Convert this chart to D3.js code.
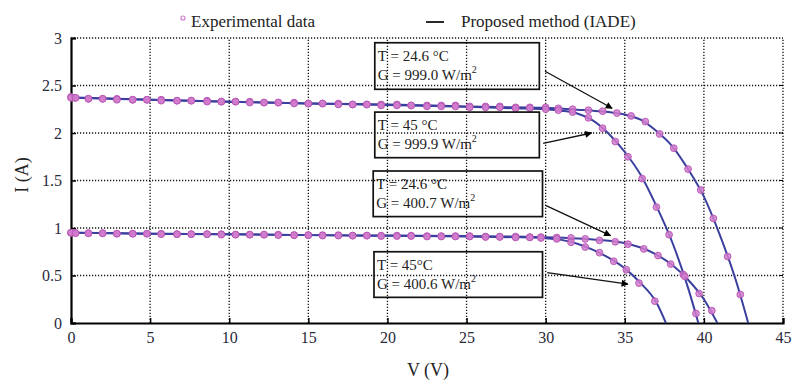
<!DOCTYPE html>
<html>
<head>
<meta charset="utf-8">
<script src="https://cdn.jsdelivr.net/npm/d3@7"></script>
<style>
	body { margin: 0; background: #fff; }
	svg { display: block; font-family: 'Liberation Serif', 'Times New Roman', serif; }
</style>
</head>
<body>
<div id="canvas"></div>
<script>
/**
 * I-V curves: experimental data vs proposed method (IADE)
 */

// Ticks
var xTicks = [0, 5, 10, 15, 20, 25, 30, 35, 40, 45],
	yTicks = [0, 0.5, 1, 1.5, 2, 2.5, 3],
	yTickLabels = ['0', '0.5', '1', '1.5', '2', '2.5', '3'];

// Experimental data [V, I]
var expA = [[0,2.38],[0.25,2.37],[1.1,2.36],[2.0,2.36],[2.9,2.36],[3.9,2.35],[4.8,2.35],[5.7,2.35],[6.7,2.34],[7.6,2.34],[8.6,2.34],[9.5,2.33],[10.4,2.33],[11.3,2.33],[12.2,2.32],[13.1,2.32],[14.1,2.32],[15.0,2.31],[15.9,2.31],[16.9,2.31],[17.8,2.30],[18.7,2.30],[19.6,2.30],[20.6,2.30],[21.5,2.29],[22.5,2.29],[23.4,2.29],[24.3,2.29],[25.2,2.28],[26.2,2.28],[27.1,2.28],[28.1,2.27],[29.0,2.27],[30.0,2.27],[30.8,2.26],[31.7,2.25],[32.7,2.24],[33.6,2.23],[34.5,2.21],[35.4,2.18],[36.3,2.12],[37.2,1.99],[38.1,1.84],[39.0,1.62],[39.8,1.40],[40.6,1.10],[41.5,0.70],[42.3,0.30]];
var expB = [[0,2.37],[0.3,2.37],[1.1,2.36],[2.0,2.36],[2.9,2.35],[3.9,2.35],[4.8,2.35],[5.7,2.34],[6.7,2.34],[7.6,2.34],[8.6,2.33],[9.5,2.33],[10.4,2.33],[11.3,2.32],[12.2,2.32],[13.1,2.32],[14.1,2.31],[15.0,2.31],[15.9,2.31],[16.9,2.30],[17.8,2.30],[18.7,2.30],[19.6,2.29],[20.6,2.29],[21.5,2.29],[22.5,2.28],[23.4,2.28],[24.3,2.28],[25.2,2.27],[26.2,2.27],[27.1,2.27],[28.1,2.26],[29.0,2.26],[30.0,2.25],[30.8,2.24],[31.7,2.22],[32.7,2.16],[33.6,2.05],[34.4,1.91],[35.2,1.75],[36.1,1.52],[37.0,1.22],[37.8,0.93],[38.7,0.51],[39.5,0.10]];
var expC = [[0,0.95],[0.25,0.95],[1.1,0.945],[2.0,0.945],[2.9,0.94],[3.9,0.94],[4.8,0.94],[5.7,0.94],[6.7,0.935],[7.6,0.935],[8.6,0.935],[9.5,0.935],[10.4,0.93],[11.3,0.93],[12.2,0.93],[13.1,0.93],[14.1,0.925],[15.0,0.925],[15.9,0.925],[16.9,0.925],[17.8,0.92],[18.7,0.92],[19.6,0.92],[20.6,0.92],[21.5,0.92],[22.5,0.915],[23.4,0.915],[24.3,0.915],[25.2,0.915],[26.2,0.91],[27.1,0.91],[28.1,0.91],[29.0,0.905],[29.7,0.905],[30.7,0.90],[31.6,0.895],[32.5,0.885],[33.4,0.87],[34.4,0.855],[35.2,0.83],[36.2,0.78],[37.1,0.71],[37.9,0.62],[38.8,0.49],[39.7,0.31],[40.5,0.13]];
var expD = [[0,0.95],[0.3,0.945],[1.1,0.945],[2.0,0.945],[2.9,0.94],[3.9,0.94],[4.8,0.94],[5.7,0.935],[6.7,0.935],[7.6,0.935],[8.6,0.935],[9.5,0.93],[10.4,0.93],[11.3,0.93],[12.2,0.93],[13.1,0.925],[14.1,0.925],[15.0,0.925],[15.9,0.92],[16.9,0.92],[17.8,0.92],[18.7,0.92],[19.6,0.915],[20.6,0.915],[21.5,0.915],[22.5,0.91],[23.4,0.91],[24.3,0.91],[25.2,0.91],[26.2,0.905],[27.1,0.905],[28.1,0.90],[29.0,0.90],[29.7,0.895],[30.7,0.885],[31.6,0.85],[32.5,0.80],[33.4,0.74],[34.3,0.65],[35.1,0.56],[35.9,0.42],[36.9,0.23]];

// Proposed method (IADE) [V, I]
var modelA = [[0,2.375],[5,2.35],[10,2.33],[15,2.31],[20,2.30],[25,2.28],[28,2.27],[30,2.265],[32,2.245],[33,2.235],[34,2.22],[35,2.195],[36,2.14],[37,2.02],[38,1.86],[39,1.62],[40,1.33],[41,0.93],[42,0.46],[42.8,0]];
var modelB = [[0,2.37],[5,2.35],[10,2.33],[15,2.31],[20,2.295],[25,2.275],[28,2.26],[30,2.25],[31,2.235],[32,2.205],[33,2.13],[34,1.99],[35,1.80],[36,1.56],[37,1.23],[38,0.85],[39,0.37],[39.65,0]];
var modelC = [[0,0.95],[5,0.94],[10,0.933],[15,0.925],[20,0.92],[25,0.915],[28,0.91],[30,0.903],[32,0.89],[33,0.88],[34,0.865],[35,0.84],[36,0.795],[37,0.72],[38,0.61],[39,0.455],[40,0.25],[40.85,0]];
var modelD = [[0,0.95],[5,0.94],[10,0.933],[15,0.925],[20,0.918],[25,0.91],[28,0.903],[30,0.893],[31,0.875],[32,0.835],[33,0.77],[34,0.685],[35,0.575],[36,0.42],[37,0.215],[37.6,0]];

// Annotation labels
var labelT = ['T = 24.6 \u00B0C', 'T = 45 \u00B0C', 'T = 24.6 \u00B0C', 'T = 45\u00B0C'],
	labelG = ['G = 999.0 W/m', 'G = 999.9 W/m', 'G = 400.7 W/m', 'G = 400.6 W/m'];

// UI
var width = 793,
	height = 381,
	margin = { left: 71, right: 10, top: 38, bottom: 58 },
	lineColor = '#3b3f9e',
	dotColor = '#d27ccc',
	dotStroke = '#b552b4',
	gridColor = '#111';

var svg = d3.select('#canvas').append('svg')
	.attr('width', width)
	.attr('height', height);

var x = d3.scaleLinear().domain([0, 45]).range([margin.left, 783]),
	y = d3.scaleLinear().domain([0, 3]).range([323, margin.top]);

// Annotation boxes and arrows, placed in data units
var boxes = [
	{ v0: 19.2, v1: 29.6, i0: 2.95, i1: 2.46, ax0: 29.96, ay0: 2.65, ax1: 34.2, ay1: 2.26 },
	{ v0: 19.2, v1: 29.6, i0: 2.22, i1: 1.74, ax0: 29.84, ay0: 1.89, ax1: 32.9, ay1: 2.0 },
	{ v0: 19.1, v1: 29.8, i0: 1.60, i1: 1.12, ax0: 29.96, ay0: 1.24, ax1: 34.1, ay1: 0.92 },
	{ v0: 19.15, v1: 29.8, i0: 0.75, i1: 0.27, ax0: 30.1, ay0: 0.53, ax1: 35.2, ay1: 0.41 }
];

// Arrow marker
svg.append('defs').append('marker')
	.attr('id', 'arrow')
	.attr('viewBox', '0 0 10 10')
	.attr('refX', 9).attr('refY', 5)
	.attr('markerWidth', 9).attr('markerHeight', 7)
	.attr('markerUnits', 'userSpaceOnUse')
	.attr('orient', 'auto')
	.append('path')
	.attr('d', 'M0,0 L10,5 L0,10 Z')
	.attr('fill', '#000');

// Grid
var gGrid = svg.append('g');
gGrid.selectAll('line.vx')
	.data(xTicks.slice(1))
	.enter().append('line')
	.attr('x1', function(d) { return x(d); })
	.attr('x2', function(d) { return x(d); })
	.attr('y1', y(0)).attr('y2', y(3))
	.attr('stroke', gridColor)
	.attr('stroke-width', 1.3)
	.attr('stroke-dasharray', '1.2,1.8');
gGrid.selectAll('line.hy')
	.data(yTicks.slice(1))
	.enter().append('line')
	.attr('y1', function(d) { return y(d); })
	.attr('y2', function(d) { return y(d); })
	.attr('x1', x(0)).attr('x2', x(45))
	.attr('stroke', gridColor)
	.attr('stroke-width', 1.3)
	.attr('stroke-dasharray', '1.2,1.8');

// Axes
var xAxis = svg.append('g')
	.attr('transform', 'translate(0,' + y(0) + ')')
	.call(d3.axisBottom(x).tickValues(xTicks).tickSize(-5).tickPadding(9));
var yAxis = svg.append('g')
	.attr('transform', 'translate(' + x(0) + ',0)')
	.call(d3.axisLeft(y).tickValues(yTicks).tickSize(-5).tickPadding(9)
		.tickFormat(function(d, i) { return yTickLabels[i]; }));
[xAxis, yAxis].forEach(function(g) {
	g.select('.domain').attr('stroke', '#000').attr('stroke-width', 2.2);
	g.selectAll('.tick line').attr('stroke', '#000').attr('stroke-width', 1.5);
	g.selectAll('.tick text')
		.attr('fill', '#2a2a3a')
		.style('font-family', "'Liberation Serif', serif")
		.style('font-size', '16px');
});
// right-edge ticks
svg.append('g').selectAll('line')
	.data(yTicks.slice(1, -1))
	.enter().append('line')
	.attr('x1', x(45)).attr('x2', x(45) - 4)
	.attr('y1', function(d) { return y(d); })
	.attr('y2', function(d) { return y(d); })
	.attr('stroke', '#000');

// Model lines
var line = d3.line()
	.x(function(d) { return x(d[0]); })
	.y(function(d) { return y(d[1]); })
	.curve(d3.curveMonotoneX);
var gLines = svg.append('g');
[modelA, modelB, modelC, modelD].forEach(function(m) {
	gLines.append('path')
		.datum(m)
		.attr('d', line)
		.attr('fill', 'none')
		.attr('stroke', lineColor)
		.attr('stroke-width', 2);
});

// Experimental points
var gDots = svg.append('g');
[expA, expB, expC, expD].forEach(function(e) {
	gDots.append('g').selectAll('circle')
		.data(e)
		.enter().append('circle')
		.attr('cx', function(d) { return x(d[0]); })
		.attr('cy', function(d) { return y(d[1]); })
		.attr('r', 3.4)
		.attr('fill', dotColor)
		.attr('fill-opacity', 0.85)
		.attr('stroke', dotStroke)
		.attr('stroke-width', 0.9);
});

// Annotation boxes
var gNotes = svg.append('g');
boxes.forEach(function(b, i) {
	var bx = x(b.v0), by = y(b.i0);
	gNotes.append('rect')
		.attr('x', bx).attr('y', by)
		.attr('width', x(b.v1) - x(b.v0))
		.attr('height', y(b.i1) - y(b.i0))
		.attr('fill', 'none')
		.attr('stroke', '#111')
		.attr('stroke-width', 1.7);
	gNotes.append('text')
		.attr('x', bx + 3).attr('y', by + 18)
		.attr('font-size', 15)
		.attr('fill', '#222')
		.text(labelT[i]);
	var t = gNotes.append('text')
		.attr('x', bx + 3).attr('y', by + 37)
		.attr('font-size', 15)
		.attr('fill', '#222')
		.text(labelG[i]);
	t.append('tspan')
		.attr('dy', -7)
		.attr('font-size', 10)
		.text('2');
	gNotes.append('line')
		.attr('x1', x(b.ax0)).attr('y1', y(b.ay0))
		.attr('x2', x(b.ax1)).attr('y2', y(b.ay1))
		.attr('stroke', '#111')
		.attr('stroke-width', 1.3)
		.attr('marker-end', 'url(#arrow)');
});

// Legend
var gLegend = svg.append('g');
gLegend.append('circle')
	.attr('cx', 183).attr('cy', 18).attr('r', 2)
	.attr('fill', 'none')
	.attr('stroke', dotColor)
	.attr('stroke-width', 1.2);
gLegend.append('text')
	.attr('x', 191).attr('y', 27)
	.attr('font-size', 17)
	.attr('fill', '#222')
	.text('Experimental data');
gLegend.append('line')
	.attr('x1', 426).attr('x2', 444)
	.attr('y1', 22).attr('y2', 22)
	.attr('stroke', '#111')
	.attr('stroke-width', 1.8);
gLegend.append('text')
	.attr('x', 461).attr('y', 27)
	.attr('font-size', 17)
	.attr('fill', '#222')
	.text('Proposed method (IADE)');

// Axis titles
svg.append('text')
	.attr('x', 428).attr('y', 376)
	.attr('text-anchor', 'middle')
	.attr('font-size', 18)
	.attr('fill', '#222')
	.text('V (V)');
svg.append('text')
	.attr('transform', 'translate(28,175) rotate(-90)')
	.attr('text-anchor', 'middle')
	.attr('font-size', 18)
	.attr('fill', '#222')
	.text('I (A)');
</script>
</body>
</html>
